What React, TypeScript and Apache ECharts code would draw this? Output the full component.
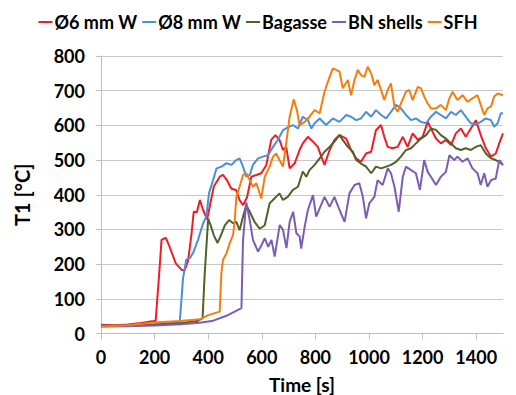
import React, { useEffect, useRef } from "react";
import * as echarts from "echarts";

const seriesNames = ["Ø6 mm W", "Ø8 mm W", "Bagasse", "BN shells", "SFH"];
const seriesColors = ["#f01c24", "#4a8fd8", "#4f6228", "#7c5cb4", "#f57d0f"];
const xTicks = [0, 200, 400, 600, 800, 1000, 1200, 1400];

const w6mm: [number, number][] = [
  [0, 25], [50, 24], [100, 26], [150, 30], [190, 35], [204, 37], [215, 150], [226, 270], [242, 276], [257, 248],
  [279, 202], [300, 184], [312, 182], [325, 210], [338, 289], [346, 351], [358, 350], [369, 385], [381, 356], [396, 329],
  [406, 367], [421, 424], [443, 452], [455, 457], [470, 442], [486, 418], [505, 413], [517, 385], [530, 370], [545, 393],
  [561, 452], [580, 457], [598, 462], [617, 486], [635, 558], [651, 572], [666, 558], [679, 529], [691, 538], [704, 476],
  [723, 491], [741, 529], [753, 548], [772, 567], [791, 553], [809, 538], [822, 510], [834, 486], [853, 529], [871, 558],
  [890, 572], [915, 562], [933, 529], [952, 505], [970, 495], [989, 519], [1008, 524], [1026, 586], [1045, 601], [1057, 567],
  [1070, 538], [1088, 534], [1107, 538], [1126, 567], [1144, 538], [1163, 577], [1182, 558], [1200, 567], [1219, 610], [1231, 591],
  [1250, 562], [1268, 548], [1287, 558], [1306, 543], [1324, 577], [1343, 591], [1361, 567], [1380, 591], [1399, 615], [1417, 572],
  [1436, 534], [1455, 510], [1473, 519], [1486, 548], [1500, 577],
];

const w8mm: [number, number][] = [
  [0, 22], [100, 23], [200, 27], [280, 31], [294, 34], [306, 158], [318, 213], [331, 217], [343, 231], [362, 270],
  [381, 318], [393, 337], [403, 404], [418, 442], [431, 476], [450, 481], [468, 491], [487, 486], [505, 500], [517, 505],
  [530, 481], [542, 452], [555, 457], [567, 486], [586, 505], [604, 510], [623, 514], [642, 538], [660, 558], [679, 586],
  [697, 594], [716, 601], [735, 591], [753, 625], [772, 615], [785, 591], [797, 606], [816, 620], [840, 601], [865, 620],
  [890, 610], [915, 630], [933, 625], [952, 615], [970, 620], [989, 639], [1008, 625], [1026, 644], [1045, 630], [1064, 620],
  [1082, 639], [1101, 659], [1119, 649], [1138, 630], [1157, 615], [1175, 620], [1194, 610], [1213, 606], [1231, 625], [1250, 639],
  [1268, 630], [1287, 620], [1306, 639], [1324, 630], [1343, 644], [1361, 625], [1380, 606], [1399, 601], [1417, 610], [1436, 620],
  [1455, 615], [1467, 596], [1480, 606], [1492, 635], [1500, 635],
];

const bagasse: [number, number][] = [
  [0, 22], [100, 23], [200, 25], [300, 30], [360, 36], [379, 44], [387, 173], [400, 331], [409, 312], [421, 283],
  [435, 261], [450, 288], [462, 312], [478, 327], [493, 318], [505, 322], [517, 298], [530, 337], [542, 370], [555, 351],
  [573, 322], [592, 302], [611, 312], [629, 375], [648, 390], [666, 404], [679, 385], [697, 394], [716, 414], [735, 423],
  [753, 467], [766, 452], [778, 471], [797, 486], [816, 505], [834, 524], [853, 538], [871, 553], [890, 572], [902, 558],
  [921, 538], [940, 524], [952, 500], [970, 490], [989, 481], [1008, 462], [1026, 481], [1045, 476], [1064, 481], [1082, 486],
  [1101, 495], [1119, 510], [1138, 529], [1157, 534], [1175, 548], [1194, 562], [1213, 572], [1231, 591], [1250, 587], [1268, 572],
  [1287, 562], [1306, 548], [1324, 534], [1343, 529], [1361, 534], [1380, 529], [1399, 538], [1417, 543], [1436, 519], [1455, 505],
  [1473, 500], [1486, 495], [1500, 486],
];

const bnShells: [number, number][] = [
  [0, 20], [100, 21], [200, 23], [300, 27], [369, 31], [419, 37], [468, 51], [524, 73], [530, 270], [542, 378],
  [555, 327], [567, 270], [586, 236], [599, 255], [611, 275], [624, 250], [636, 270], [648, 222], [667, 313], [679, 299],
  [692, 246], [704, 322], [717, 351], [729, 289], [741, 280], [747, 245], [760, 308], [772, 356], [791, 399], [803, 337],
  [816, 361], [834, 394], [853, 365], [871, 394], [890, 356], [909, 322], [927, 404], [946, 428], [964, 433], [977, 394],
  [989, 332], [1001, 375], [1020, 394], [1032, 442], [1051, 428], [1070, 476], [1082, 462], [1095, 423], [1111, 351], [1126, 452],
  [1138, 481], [1157, 471], [1175, 462], [1190, 414], [1206, 500], [1219, 466], [1231, 452], [1250, 428], [1268, 452], [1287, 466],
  [1300, 514], [1318, 500], [1330, 510], [1349, 495], [1368, 505], [1386, 476], [1405, 462], [1417, 428], [1430, 462], [1442, 423],
  [1455, 442], [1473, 447], [1486, 500], [1500, 486],
];

const sfh: [number, number][] = [
  [0, 20], [100, 24], [200, 32], [294, 36], [369, 41], [400, 53], [443, 63], [449, 173], [455, 212], [468, 231],
  [480, 260], [493, 284], [499, 327], [505, 394], [517, 423], [530, 457], [542, 462], [555, 442], [567, 423], [580, 433],
  [598, 389], [611, 452], [629, 481], [642, 510], [654, 519], [666, 500], [679, 481], [691, 548], [704, 625], [719, 675],
  [731, 644], [741, 600], [760, 610], [778, 625], [797, 644], [816, 635], [834, 697], [853, 740], [865, 764], [878, 760],
  [890, 755], [902, 707], [921, 731], [933, 687], [946, 731], [958, 760], [970, 745], [983, 740], [995, 769], [1008, 750],
  [1020, 716], [1032, 731], [1045, 702], [1057, 673], [1070, 702], [1082, 721], [1095, 654], [1107, 639], [1119, 663], [1138, 697],
  [1150, 702], [1163, 673], [1182, 711], [1194, 707], [1206, 683], [1219, 663], [1231, 649], [1250, 649], [1268, 659], [1287, 644],
  [1300, 678], [1312, 697], [1330, 673], [1349, 687], [1368, 668], [1386, 678], [1405, 687], [1417, 659], [1430, 630], [1442, 649],
  [1455, 654], [1467, 683], [1480, 692], [1500, 687],
];

const seriesData = [w6mm, w8mm, bagasse, bnShells, sfh];

const FONT = "Lato";

export default function App() {
  const ref = useRef<HTMLDivElement>(null);
  useEffect(() => {
    if (!ref.current) return;
    const chart = echarts.init(ref.current, null, { renderer: "svg" });
    chart.setOption({
      animation: false,
      backgroundColor: "#ffffff",
      textStyle: { fontFamily: FONT },
      legend: {
        top: 8,
        left: "center",
        icon: "rect",
        itemWidth: 14,
        itemHeight: 2,
        itemGap: 5,
        textStyle: { fontFamily: FONT, fontWeight: "bold", fontSize: 18, color: "#000", padding: [0, 0, 0, -3] },
        data: seriesNames,
      },
      grid: { left: 101, right: 13, top: 56, bottom: 61.5, containLabel: false, outerBoundsMode: "none" },
      xAxis: {
        type: "value",
        min: 0,
        max: 1500,
        interval: 200,
        name: "Time [s]",
        nameLocation: "middle",
        nameGap: 41,
        nameTextStyle: { fontFamily: FONT, fontWeight: "bold", fontSize: 19, color: "#000" },
        axisLine: { show: true, lineStyle: { color: "#bfbfbf", width: 1 } },
        axisTick: { show: true, length: 6, lineStyle: { color: "#bfbfbf" }, customValues: xTicks },
        axisLabel: {
          fontFamily: FONT,
          fontWeight: "bold",
          fontSize: 18,
          color: "#000",
          margin: 14,
          customValues: xTicks,
          formatter: (v: number) => String(v),
        },
        splitLine: { show: false },
      },
      yAxis: {
        type: "value",
        min: 0,
        max: 800,
        interval: 100,
        name: "T1 [°C]",
        nameLocation: "middle",
        nameGap: 69,
        nameTextStyle: { fontFamily: FONT, fontWeight: "bold", fontSize: 20, color: "#000" },
        axisLine: { show: true, lineStyle: { color: "#bfbfbf", width: 1 } },
        axisTick: { show: true, length: 5, lineStyle: { color: "#bfbfbf" } },
        axisLabel: {
          fontFamily: FONT,
          fontWeight: "bold",
          fontSize: 18,
          color: "#000",
          margin: 16,
          formatter: (v: number) => String(v),
        },
        splitLine: { show: true, lineStyle: { color: "#c8c8c8", width: 1 } },
      },
      series: seriesNames.map((name, i) => ({
        name,
        type: "line",
        data: seriesData[i],
        showSymbol: false,
        symbol: "none",
        color: seriesColors[i],
        lineStyle: { width: 2, color: seriesColors[i] },
      })),
    });
    return () => chart.dispose();
  }, []);
  return (
    <div
      ref={ref}
      style={{ position: "fixed", left: 0, top: 0, width: 516, height: 395, background: "#fff" }}
    />
  );
}
